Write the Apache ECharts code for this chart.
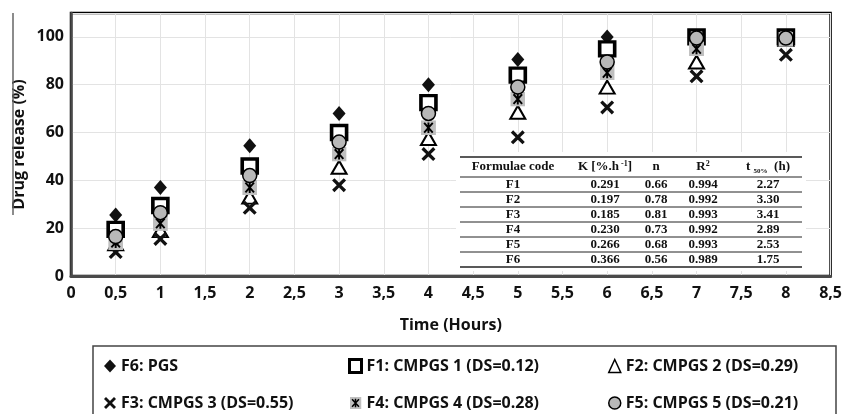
<!DOCTYPE html>
<html>
<head>
<meta charset="utf-8">
<script src="https://cdn.jsdelivr.net/npm/echarts@6/dist/echarts.min.js"></script>
<style>
  html, body { margin: 0; padding: 0; background: #fff; }
  #chart { width: 845px; height: 414px; }
</style>
</head>
<body>
<div id="chart"></div>
<script>
// release time points (hours)
var times = [0.5, 1, 2, 3, 4, 5, 6, 7, 8];

// drug release (%) per formulation
var f6 = [25.5, 37, 54.5, 68, 80, 90.5, 100, 100, 100];
var f1 = [19.5, 29.5, 46, 60, 72.5, 84, 95, 100, 100];
var f2 = [13.5, 19, 33, 45.5, 57.5, 68.5, 79, 89.5, 99];
var f3 = [10, 15.5, 28.5, 38, 51, 58, 70.5, 83.5, 92.5];
var f4 = [14, 22, 37, 51, 62, 74, 85, 95, 99];
var f5 = [16.5, 26.5, 42, 56, 68, 79, 89.5, 99.5, 99.5];

var seriesNames = [
  "F6: PGS",
  "F1: CMPGS 1 (DS=0.12)",
  "F2: CMPGS 2 (DS=0.29)",
  "F3: CMPGS 3 (DS=0.55)",
  "F4: CMPGS 4 (DS=0.28)",
  "F5: CMPGS 5 (DS=0.21)"
];

// inset table (Korsmeyer-Peppas fit)
var tableCodes = ["F1", "F2", "F3", "F4", "F5", "F6"];
var tableK = ["0.291", "0.197", "0.185", "0.230", "0.266", "0.366"];
var tableN = ["0.66", "0.78", "0.81", "0.73", "0.68", "0.56"];
var tableR2 = ["0.994", "0.992", "0.993", "0.992", "0.993", "0.989"];
var tableT50 = ["2.27", "3.30", "3.41", "2.89", "2.53", "1.75"];

var axisFont = "'Open Sans', 'Noto Sans', sans-serif";
var serifFont = "'Liberation Serif', 'DejaVu Serif', serif";

function pairs(values) {
  return times.map(function (t, i) { return [t, values[i]]; });
}

var crossPath = "path://M0,2L2,0L6,4L10,0L12,2L8,6L12,10L10,12L6,8L2,12L0,10L4,6Z";
var asteriskSvg =
  "<svg xmlns='http://www.w3.org/2000/svg' width='28' height='28' viewBox='0 0 14 14'>" +
  "<rect width='14' height='14' fill='#bfbfbf'/>" +
  "<path d='M3,2.5L11,11.5M11,2.5L3,11.5M7,2L7,12' stroke='#000' stroke-width='1.8' fill='none'/>" +
  "</svg>";
var asteriskSymbol = "image://data:image/svg+xml;charset=utf-8," + encodeURIComponent(asteriskSvg);

function buildTable() {
  var left = 460, right = 802;
  var cols = [513, 605, 656, 703, 768];
  var lineYs = [157, 177, 192, 207, 222, 237, 252, 267];
  var els = [];
  els.push({
    type: "rect", z: 50,
    shape: { x: left - 4, y: 152, width: right - left + 8, height: 119 },
    style: { fill: "#fff" }
  });
  lineYs.forEach(function (y, i) {
    els.push({
      type: "line", z: 51,
      shape: { x1: left, y1: y, x2: right, y2: y },
      style: { stroke: "#222", lineWidth: i === 0 || i === lineYs.length - 1 ? 1.5 : 1 }
    });
  });
  var rich = {
    b: { fontFamily: serifFont, fontWeight: "bold", fontSize: 13, fill: "#111", lineHeight: 15 },
    sup: { fontFamily: serifFont, fontWeight: "bold", fontSize: 8, fill: "#111", lineHeight: 15, verticalAlign: "top" },
    sub: { fontFamily: serifFont, fontWeight: "bold", fontSize: 7, fill: "#111", lineHeight: 15, verticalAlign: "bottom" }
  };
  var headers = [
    "{b|Formulae code}",
    "{b|K [%.h}{sup| -1}{b|]}",
    "{b|n}",
    "{b|R}{sup|2}",
    "{b|t }{sub|50%}{b|  (h)}"
  ];
  headers.forEach(function (h, c) {
    els.push({
      type: "text", z: 52,
      x: cols[c], y: 167,
      style: { text: h, rich: rich, align: "center", verticalAlign: "middle" }
    });
  });
  var columns = [tableCodes, tableK, tableN, tableR2, tableT50];
  for (var r = 0; r < tableCodes.length; r++) {
    for (var c = 0; c < columns.length; c++) {
      els.push({
        type: "text", z: 52,
        x: cols[c], y: (lineYs[r + 1] + lineYs[r + 2]) / 2 + 0.5,
        style: {
          text: columns[c][r],
          fontFamily: serifFont,
          fontWeight: "bold",
          fontSize: 13,
          fill: "#111",
          align: "center",
          verticalAlign: "middle"
        }
      });
    }
  }
  return { type: "group", z: 50, children: els };
}

var myChart = echarts.init(document.getElementById("chart"));

var legendText = { fontFamily: axisFont, fontWeight: "bold", fontSize: 16, color: "#111" };
function legendCol(items, left) {
  return {
    data: items,
    left: left,
    top: 358,
    orient: "vertical",
    itemGap: 21,
    itemWidth: 12,
    itemHeight: 13,
    selectedMode: false,
    padding: 0,
    textStyle: legendText
  };
}

var option = {
  animation: false,
  grid: {
    left: 71, right: 13, top: 13, bottom: 138,
    show: true, borderColor: "#000", borderWidth: 2.5
  },
  xAxis: {
    type: "value",
    min: 0, max: 8.5, interval: 0.5,
    name: "Time (Hours)",
    nameLocation: "middle",
    nameGap: 41,
    nameTextStyle: { fontFamily: axisFont, fontWeight: "bold", fontSize: 16, color: "#111" },
    axisLine: { lineStyle: { color: "#4a4a4a", width: 3 } },
    axisTick: { show: false },
    axisLabel: {
      margin: 9,
      fontFamily: axisFont, fontWeight: "bold", fontSize: 16, color: "#111",
      formatter: function (v) { return String(v).replace(".", ","); }
    },
    splitLine: { lineStyle: { color: "#e3e3e3", width: 1 } }
  },
  yAxis: {
    type: "value",
    min: 0, max: 110, interval: 20,
    name: "Drug release (%)",
    nameLocation: "middle",
    nameGap: 44,
    nameMoveOverlap: false,
    nameTextStyle: { fontFamily: axisFont, fontWeight: "bold", fontSize: 16, color: "#111" },
    axisLine: { show: true, lineStyle: { color: "#4a4a4a", width: 2.5 } },
    axisTick: { show: false },
    axisLabel: {
      margin: 7, showMaxLabel: false,
      fontFamily: axisFont, fontWeight: "bold", fontSize: 16, color: "#111"
    },
    splitLine: { lineStyle: { color: "#e3e3e3", width: 1 } }
  },
  legend: [
    legendCol([seriesNames[0], seriesNames[3]], 104),
    legendCol([
      { name: seriesNames[1], itemStyle: { borderWidth: 3 } },
      seriesNames[4]
    ], 348),
    legendCol([
      { name: seriesNames[2], itemStyle: { borderWidth: 1.5 } },
      { name: seriesNames[5], itemStyle: { borderWidth: 1.5 } }
    ], 608)
  ],
  graphic: [
    {
      type: "line", z: 50,
      shape: { x1: 13, y1: 13, x2: 13, y2: 215 },
      style: { stroke: "#666", lineWidth: 1.5 }
    },
    {
      type: "rect", z: 50,
      shape: { x: 93, y: 346, width: 743, height: 80 },
      style: { fill: "none", stroke: "#444", lineWidth: 1.5 }
    },
    buildTable()
  ],
  series: [
    {
      name: seriesNames[0], type: "scatter", data: pairs(f6),
      symbol: "diamond", symbolSize: [13, 15],
      itemStyle: { color: "#111", opacity: 1 }
    },
    {
      name: seriesNames[1], type: "scatter", data: pairs(f1),
      symbol: "rect", symbolSize: [15, 14],
      itemStyle: { color: "#fff", borderColor: "#000", borderWidth: 3.5, opacity: 1 }
    },
    {
      name: seriesNames[2], type: "scatter", data: pairs(f2),
      symbol: "triangle", symbolSize: [15, 13],
      itemStyle: { color: "#fff", borderColor: "#000", borderWidth: 2, opacity: 1 }
    },
    {
      name: seriesNames[3], type: "scatter", data: pairs(f3),
      symbol: crossPath, symbolSize: 14,
      itemStyle: { color: "#111", opacity: 1 }
    },
    {
      name: seriesNames[4], type: "scatter", data: pairs(f4),
      symbol: asteriskSymbol, symbolSize: 15,
      itemStyle: { opacity: 1 }
    },
    {
      name: seriesNames[5], type: "scatter", data: pairs(f5),
      symbol: "circle", symbolSize: 14,
      itemStyle: { color: "#b8b8b8", borderColor: "#000", borderWidth: 1.5, opacity: 1 }
    }
  ]
};

myChart.setOption(option);
</script>
</body>
</html>
